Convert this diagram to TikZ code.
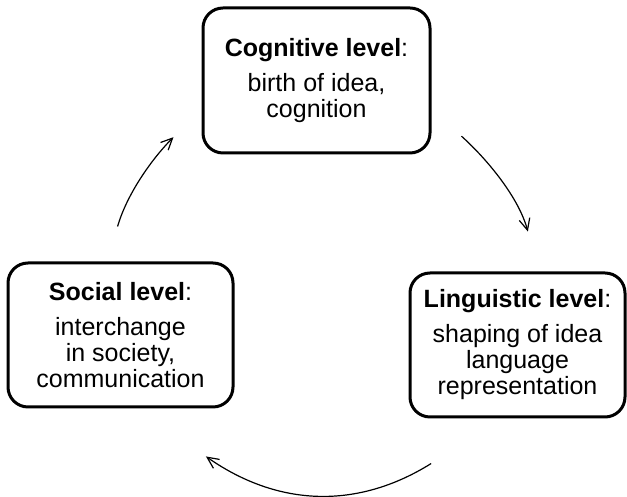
\documentclass[tikz,border=0pt]{standalone}
\usepackage{fontspec}
\setmainfont{Liberation Sans}
\usetikzlibrary{arrows.meta}

\begin{document}
\begin{tikzpicture}[x=0.5pt, y=0.5pt,
  level/.style={draw, line width=1.5pt, rounded corners=10pt, align=center,
    font=\fontsize{12.5}{13}\selectfont},
  cyclearrow/.style={draw, line width=0.6pt, -{Straight Barb[length=5.75pt, width=5.4pt]}}]
\useasboundingbox (0,0) rectangle (627,497);
\node [level, minimum width=113.5pt, minimum height=72.5pt] (cog) at (316.5,416.5)
  {\textbf{Cognitive level}:\\[4.5pt] birth of idea,\\ cognition};
\node [level, minimum width=112.5pt, minimum height=72pt] (soc) at (120.5,162)
  {\textbf{Social level}:\\[4.5pt] interchange\\ in society,\\ communication};
\node [level, minimum width=107.5pt, minimum height=72pt] (lin) at (517.5,152)
  {\textbf{Linguistic level}:\\[4.5pt] shaping of idea\\ language\\ representation};
\path [cyclearrow, shorten <=18.2pt, shorten >=19.8pt] (soc.100) to [out=74, in=225] (cog.194);
\path [cyclearrow, shorten <=20.2pt, shorten >=20.7pt] (cog.-14) to [out=-42, in=105] (lin.74);
\path [cyclearrow, shorten <=42.5pt, shorten >=41.8pt, looseness=1.2] (lin.259) to [out=212, in=-35] (soc.-77);
\end{tikzpicture}
\end{document}
